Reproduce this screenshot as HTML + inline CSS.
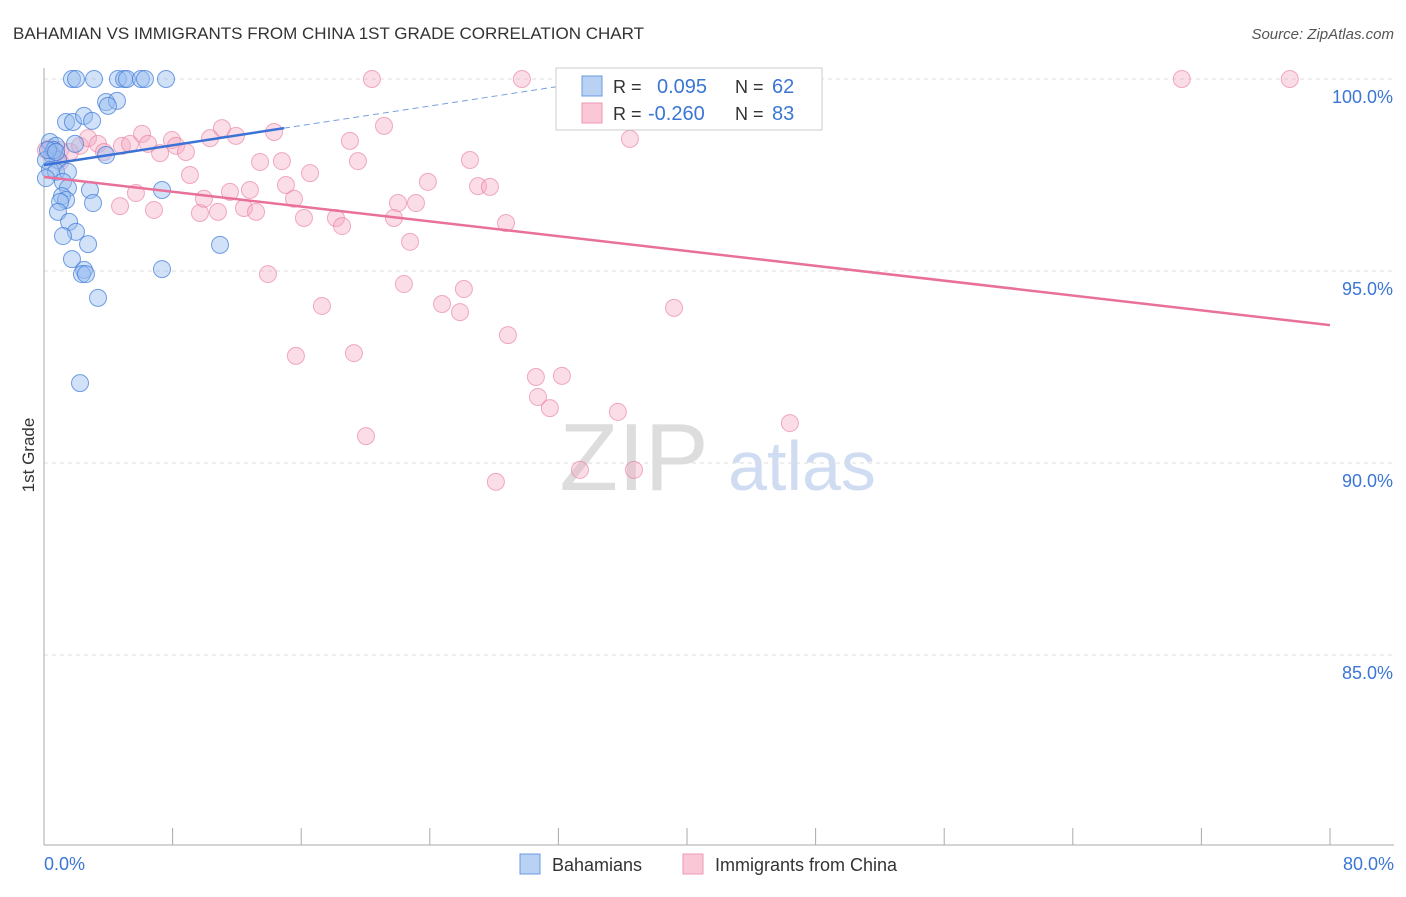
<!DOCTYPE html>
<html><head><meta charset="utf-8"><style>
body{margin:0;background:#fff;font-family:"Liberation Sans",sans-serif}
svg text{font-family:"Liberation Sans",sans-serif}
</style></head><body>
<svg id="chart" width="1406" height="892" xmlns="http://www.w3.org/2000/svg">
<text x="13" y="39" font-size="17" fill="#333">BAHAMIAN VS IMMIGRANTS FROM CHINA 1ST GRADE CORRELATION CHART</text>
<text x="1394" y="39" font-size="15" fill="#555" text-anchor="end" font-style="italic">Source: ZipAtlas.com</text>
<text transform="translate(34,455) rotate(-90)" font-size="17" fill="#333" text-anchor="middle">1st Grade</text>
<g><text x="634" y="490" font-size="96" fill="#ddd" font-family="Liberation Serif" text-anchor="middle">ZIP</text><text x="802" y="490" font-size="70" fill="#cfdcf2" text-anchor="middle">atlas</text></g>
<g id="grid"></g><g id="marks"></g>
<g>
<rect x="556" y="68" width="266" height="62" fill="#fff" stroke="#ccc"/>
<rect x="582" y="76" width="20" height="20" fill="#b9d1f3" stroke="#6a9be0"/>
<rect x="582" y="103" width="20" height="20" fill="#f9c7d5" stroke="#ee9ab3"/>
<text x="613" y="93" font-size="18" fill="#333">R = </text><text x="657" y="93" font-size="20" fill="#3b76d4">0.095</text>
<text x="735" y="93" font-size="18" fill="#333">N = </text><text x="772" y="93" font-size="20" fill="#3b76d4">62</text>
<text x="613" y="120" font-size="18" fill="#333">R = </text><text x="648" y="120" font-size="20" fill="#3b76d4">-0.260</text>
<text x="735" y="120" font-size="18" fill="#333">N = </text><text x="772" y="120" font-size="20" fill="#3b76d4">83</text>
</g>
<g>
<rect x="520" y="854" width="20" height="20" fill="#b9d1f3" stroke="#6a9be0"/>
<text x="552" y="871" font-size="18" fill="#333">Bahamians</text>
<rect x="683" y="854" width="20" height="20" fill="#f9c7d5" stroke="#ee9ab3"/>
<text x="715" y="871" font-size="18" fill="#333">Immigrants from China</text>
</g>
</svg>
<script>
const xTicks=[0,8,16,24,32,40,48,56,64,72,80];
const yTicks=[100,95,90,85];
const yTickLabels=["100.0%","95.0%","90.0%","85.0%"];
const bahX=[1.74,1.99,3.11,4.60,4.98,5.16,6.03,6.28,7.59,3.86,4.54,3.98,1.37,1.80,2.49,2.99,0.37,0.75,1.93,0.50,0.87,0.12,0.37,0.75,1.49,0.12,1.18,1.49,2.86,7.34,1.12,1.37,3.05,1.00,0.87,1.56,1.99,1.18,2.74,10.95,1.74,2.49,2.36,2.61,7.34,3.36,2.24,3.86,0.62,0.25,0.75];
const bahY=[100,100,100,100,100,100,100,100,100,99.40,99.43,99.30,98.88,98.88,99.04,98.91,98.36,98.26,98.31,98.02,97.89,97.89,97.63,97.58,97.58,97.42,97.32,97.16,97.11,97.11,96.95,96.85,96.77,96.80,96.54,96.28,96.02,95.91,95.70,95.68,95.31,95.03,94.92,94.92,95.05,94.30,92.08,98.02,98.15,98.15,98.10];
const chX=[0.37,1.00,1.62,2.24,2.74,3.36,3.73,4.85,5.35,6.10,6.47,7.22,7.96,8.21,8.83,10.33,11.07,11.94,14.31,20.40,29.73,32.84,70.78,77.50,4.73,5.72,6.84,9.08,9.70,9.95,10.82,11.57,12.44,12.81,13.19,13.44,14.80,15.05,15.55,16.17,16.55,18.16,18.54,19.03,19.53,21.15,21.77,22.02,22.77,23.14,23.88,22.39,24.76,25.88,26.12,26.50,27.00,27.74,28.74,17.29,15.67,19.28,28.86,30.60,32.22,30.73,31.47,35.70,36.45,39.19,46.40,20.03,33.34,36.70,28.11,13.93,1.00,0.62,0.12];
const chY=[98.20,98.15,98.10,98.26,98.46,98.31,98.10,98.26,98.31,98.57,98.31,98.07,98.41,98.26,98.10,98.46,98.72,98.52,98.62,100,100,100,100,100,96.69,97.03,96.59,97.50,96.51,96.88,96.54,97.06,96.64,97.11,96.54,97.84,97.86,97.24,96.88,96.38,97.55,96.38,96.17,98.39,97.86,98.78,96.38,96.77,95.76,96.77,97.32,94.66,94.14,93.93,94.53,97.89,97.21,97.19,96.25,94.09,92.79,92.86,93.33,92.24,92.27,91.72,91.43,91.33,98.44,94.04,91.04,90.70,89.82,89.82,89.51,94.92,97.84,97.99,98.15];
const bahTrend=[0,14.93,33]; const bahTrendY=[97.76,98.72,99.87];
const chTrend=[0,80]; const chTrendY=[97.45,93.59];
const X=v=>44+(v/80)*1286, Y=v=>79+(100-v)*38.4;
const NS="http://www.w3.org/2000/svg";
const grid=document.getElementById('grid'), marks=document.getElementById('marks');
function mk(tag,attrs,parent){const e=document.createElementNS(NS,tag);for(const k in attrs)e.setAttribute(k,attrs[k]);parent.appendChild(e);return e;}
yTicks.forEach((t,i)=>{
 const l=mk('line',{x1:44,x2:1394,y1:Y(t),y2:Y(t),stroke:'#ddd','stroke-dasharray':'4,4'},grid);
 
 
 const tx=mk('text',{x:1393,y:Y(t)+24,'font-size':18,fill:'#3b76d4','text-anchor':'end'},grid);
 tx.textContent=yTickLabels[i];
 
 
});
const ax=mk('line',{x1:44,x2:44,y1:68,y2:845,stroke:'#aaa'},grid);


const bx=mk('line',{x1:44,x2:1394,y1:845,y2:845,stroke:'#aaa'},grid);


xTicks.forEach(t=>{
 const l=mk('line',{x1:X(t),x2:X(t),y1:828,y2:845,stroke:'#aaa'},grid);
 
 
});
[[0,'0.0%','start',44],[80,'80.0%','end',1394]].forEach(a=>{
 const tx=mk('text',{x:a[3],y:870,'font-size':18,fill:'#3b76d4','text-anchor':a[2]},grid);
 tx.textContent=a[1];
 
 
});
chX.forEach((v,i)=>{
 const c=mk('circle',{cx:X(v),cy:Y(chY[i]),r:8.5,fill:'rgba(246,170,195,0.4)',stroke:'rgba(232,120,155,0.6)'},marks);
 
 
});
bahX.forEach((v,i)=>{
 const c=mk('circle',{cx:X(v),cy:Y(bahY[i]),r:8.5,fill:'rgba(150,188,240,0.45)',stroke:'rgba(60,120,215,0.7)'},marks);
 
 
});
const bt=mk('line',{x1:X(bahTrend[0]),y1:Y(bahTrendY[0]),x2:X(bahTrend[1]),y2:Y(bahTrendY[1]),stroke:'#3a72d6','stroke-width':2.5},marks);


const bd=mk('line',{x1:X(bahTrend[1]),y1:Y(bahTrendY[1]),x2:X(bahTrend[2]),y2:Y(bahTrendY[2]),stroke:'#7aa0e0','stroke-width':1,'stroke-dasharray':'6,4'},marks);


const ct=mk('line',{x1:X(chTrend[0]),y1:Y(chTrendY[0]),x2:X(chTrend[1]),y2:Y(chTrendY[1]),stroke:'#e8709a','stroke-width':2.5},marks);


</script>
</body></html>
